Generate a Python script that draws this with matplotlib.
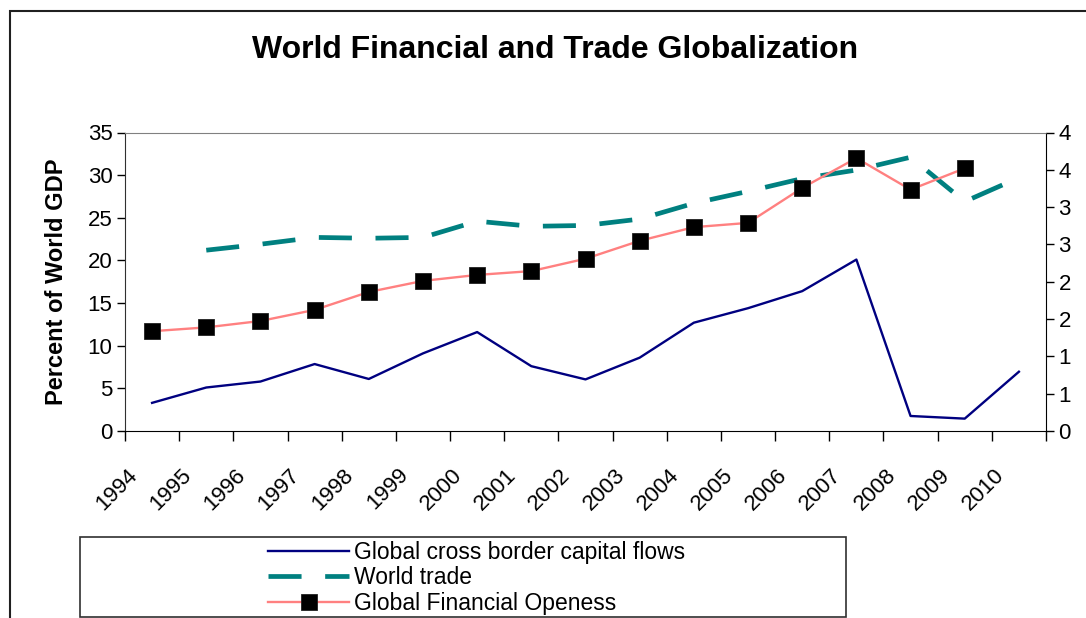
import matplotlib
matplotlib.use("Agg")
import matplotlib.pyplot as plt
from matplotlib.patches import Rectangle

years = ["1994", "1995", "1996", "1997", "1998", "1999", "2000", "2001", "2002",
         "2003", "2004", "2005", "2006", "2007", "2008", "2009", "2010"]
capital_flows = [3.3, 5.1, 5.8, 7.85, 6.1, 9.1, 11.6, 7.6, 6.05, 8.6, 12.7, 14.4,
                 16.4, 20.1, 1.76, 1.45, 6.95]
world_trade = [None, 21.2, 21.9, 22.7, 22.6, 22.7, 24.6, 24.0, 24.1, 24.85, 26.7,
               28.1, 29.6, 30.6, 32.1, 26.9, 29.7]
fin_openness = [11.7, 12.15, 12.9, 14.2, 16.3, 17.6, 18.3, 18.75, 20.2, 22.3, 23.9,
                24.4, 28.5, 32.0, 28.3, 30.8, None]
left_ticks = [0, 5, 10, 15, 20, 25, 30, 35]
right_ticks = [0, 0.5, 1, 1.5, 2, 2.5, 3, 3.5, 4]
right_labels = ["0", "1", "1", "2", "2", "3", "3", "4", "4"]

plt.rcParams['font.family'] = ['Liberation Sans', 'DejaVu Sans']

fig = plt.figure(figsize=(10.86, 6.18), dpi=100)
W, H = 1086, 618
ax = fig.add_axes([125 / W, 1 - 431 / H, (1046 - 125) / W, (431 - 132.5) / H])

n = len(years)
xs = list(range(n))

def pts(vals):
    return [x for x, v in zip(xs, vals) if v is not None], [v for v in vals if v is not None]

x1, y1 = pts(capital_flows)
x2, y2 = pts(world_trade)
x3, y3 = pts(fin_openness)

l1, = ax.plot(x1, y1, color='#000080', lw=1.7, label='Global cross border capital flows')
l2, = ax.plot(x2, y2, color='#008080', lw=3.4, dashes=(7, 5), solid_capstyle='butt',
              dash_capstyle='butt', label='World trade')
l3, = ax.plot(x3, y3, color='#FF8080', lw=1.7, marker='s', markersize=11.5,
              markerfacecolor='black', markeredgecolor='#202020', markeredgewidth=0.6,
              label='Global Financial Openess')

ax.set_xlim(-0.5, n - 0.5)
ax.set_ylim(0, 35)
ax.set_yticks(left_ticks)
ax.tick_params(axis='y', labelsize=16, length=6, width=1, direction='out', pad=3)

# x: tick marks at category boundaries, labels near boundaries rotated
ax.set_xticks([i - 0.5 for i in range(n + 1)], minor=True)
ax.tick_params(axis='x', which='minor', length=7, width=1, direction='out')
ax.set_xticks([i - 0.47 for i in range(n)])
ax.set_xticklabels(years, rotation=45, ha='right', va='top', rotation_mode='anchor')
ax.tick_params(axis='x', which='major', length=0, labelsize=16, pad=24)

ax.spines['top'].set_color('#808080')
ax.spines['right'].set_color('black')
ax.spines['left'].set_color('#303030')
ax.spines['bottom'].set_color('black')

ax.set_ylabel('Percent of World GDP', fontsize=17, fontweight='bold', labelpad=14)

ax2 = ax.twinx()
ax2.set_ylim(0, 4)
ax2.set_yticks(right_ticks)
ax2.set_yticklabels(right_labels)
ax2.tick_params(axis='y', labelsize=16, length=6, width=1, direction='out', pad=3)
for s in ax2.spines.values():
    s.set_visible(False)

fig.text(555 / W, 1 - 50 / H, 'World Financial and Trade Globalization',
         ha='center', va='center', fontsize=23, fontweight='bold')

# outer chart border
fig.patches.append(Rectangle((9.5 / W, -0.1), 2.0, 1 - 10.5 / H + 0.1,
                             transform=fig.transFigure, fill=False,
                             edgecolor='#202020', lw=1.5))

# legend box
fig.patches.append(Rectangle((80 / W, 1 - 617 / H), (846 - 80) / W, (617 - 537) / H,
                             transform=fig.transFigure, fill=False,
                             edgecolor='#303030', lw=1.2))
leg = fig.legend(handles=[l1, l2, l3], loc='center', bbox_to_anchor=(477 / W, 1 - 578 / H),
                 frameon=False, fontsize=16.5, handlelength=3.5, handletextpad=0.25,
                 labelspacing=0.12, numpoints=1, borderpad=0)

fig.savefig('out.png', dpi=100)
